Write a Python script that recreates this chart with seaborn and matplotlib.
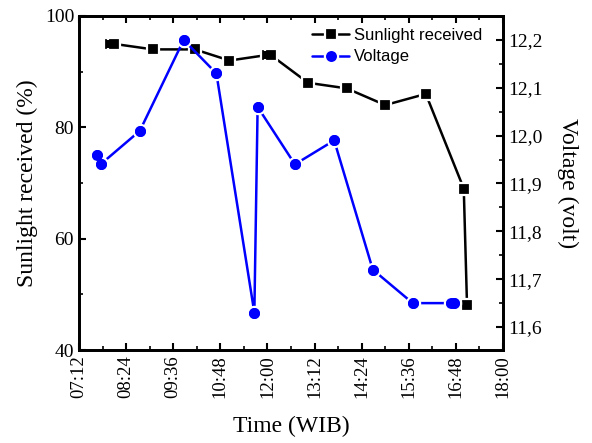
import numpy as np
import pandas as pd
import seaborn as sns
import matplotlib
matplotlib.use("Agg")
import matplotlib.pyplot as plt
from matplotlib.ticker import MultipleLocator, FuncFormatter
from matplotlib.font_manager import FontProperties

# data
sun_times = ["08:00", "08:05", "09:05", "10:09", "11:02", "12:00", "12:05",
             "13:02", "14:01", "15:00", "16:02", "17:00", "17:05"]
sun_vals = [95, 95, 94, 94, 92, 93, 93, 88, 87, 84, 86, 69, 48]

volt_times = ["07:40", "07:45", "08:45", "09:52", "10:42", "11:40", "11:45",
              "12:42", "13:42", "14:41", "15:42", "16:40", "16:45"]
volt_vals = [11.96, 11.94, 12.01, 12.20, 12.13, 11.63, 12.06,
             11.94, 11.99, 11.72, 11.65, 11.65, 11.65]

x_ticks = ["07:12", "08:24", "09:36", "10:48", "12:00", "13:12",
           "14:24", "15:36", "16:48", "18:00"]


def to_min(t):
    h, m = t.split(":")
    return int(h) * 60 + int(m)


df_sun = pd.DataFrame({"t": [to_min(t) for t in sun_times], "v": sun_vals})
df_volt = pd.DataFrame({"t": [to_min(t) for t in volt_times], "v": volt_vals})

sns.set_style("ticks", {"axes.edgecolor": "black", "xtick.color": "black",
                        "ytick.color": "black", "text.color": "black",
                        "axes.labelcolor": "black"})
plt.rcParams["font.family"] = ["Liberation Serif", "DejaVu Serif"]

fig = plt.figure(figsize=(5.92, 4.43), dpi=100)
ax = fig.add_axes([0.1334, 0.2099, 0.7163, 0.754])
ax2 = ax.twinx()

# lines with white-edged markers (gap between line and marker), then plain
# markers on top so overlapping markers merge
sns.lineplot(data=df_sun, x="t", y="v", ax=ax, color="black", lw=1.8,
             marker="s", markersize=8, markeredgecolor="white",
             markeredgewidth=1.6, label="Sunlight received", legend=False)
sns.scatterplot(data=df_sun, x="t", y="v", ax=ax, color="black",
                marker="s", s=40, linewidth=0, legend=False, zorder=3)
sns.lineplot(data=df_volt, x="t", y="v", ax=ax2, color="#0000ff", lw=1.8,
             marker="o", markersize=9.5, markeredgecolor="white",
             markeredgewidth=1.6, label="Voltage", legend=False)
sns.scatterplot(data=df_volt, x="t", y="v", ax=ax2, color="#0000ff",
                marker="o", s=62, linewidth=0, legend=False, zorder=3)

tick_pos = [to_min(t) for t in x_ticks]
ax.set_xlim(tick_pos[0], tick_pos[-1])
ax.set_xticks(tick_pos)
ax.set_xticklabels(x_ticks, rotation=90, fontsize=13.5)
ax.xaxis.set_minor_locator(MultipleLocator(36))

ax.set_ylim(40, 100)
ax.yaxis.set_major_locator(MultipleLocator(20))
ax.yaxis.set_minor_locator(MultipleLocator(10))
ax.tick_params(axis="y", labelsize=14)

ax2.set_ylim(11.552, 12.25)
ax2.set_yticks([11.6, 11.7, 11.8, 11.9, 12.0, 12.1, 12.2])
ax2.yaxis.set_minor_locator(MultipleLocator(0.05))
ax2.yaxis.set_major_formatter(FuncFormatter(lambda v, p: f"{v:.1f}".replace(".", ",")))
ax2.tick_params(axis="y", labelsize=14)

for a in (ax, ax2):
    a.tick_params(which="major", direction="in", length=5, width=1.5)
    a.tick_params(which="minor", direction="in", length=3, width=1.2)
    for s in a.spines.values():
        s.set_linewidth(2)
        s.set_color("black")
ax.tick_params(axis="x", which="both", top=True)
ax.tick_params(axis="y", which="both", right=False)

ax.set_xlabel("Time (WIB)", fontsize=17, labelpad=13)
ax.set_ylabel("Sunlight received (%)", fontsize=17, labelpad=5)
ax2.set_ylabel("Voltage (volt)", fontsize=17, rotation=270, labelpad=26)

h1, l1 = ax.get_legend_handles_labels()
h2, l2 = ax2.get_legend_handles_labels()
ax2.legend(h1 + h2, l1 + l2, loc="upper right", bbox_to_anchor=(0.967, 0.985),
           frameon=False, prop=FontProperties(family="Liberation Sans", size=12),
           handlelength=2.2, handletextpad=0.3, labelspacing=0.4,
           borderaxespad=0)

fig.savefig("out.png", dpi=100)
